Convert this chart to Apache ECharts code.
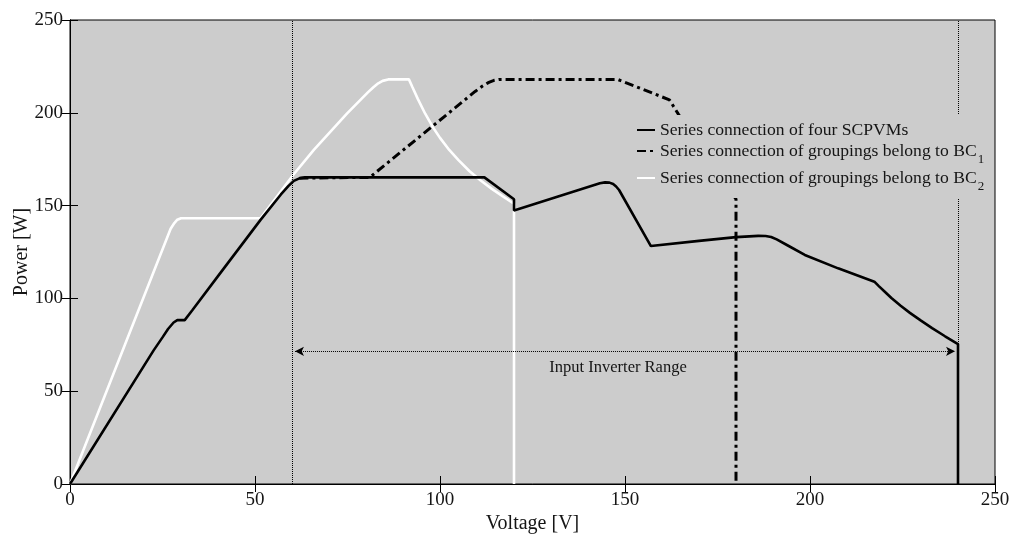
<!DOCTYPE html>
<html>
<head>
<meta charset="utf-8">
<script src="https://cdn.jsdelivr.net/npm/echarts@6/dist/echarts.min.js"></script>
<style>
html,body{margin:0;padding:0;background:#fff;}
#c{width:1013px;height:538px;}
</style>
</head>
<body>
<div id="c"></div>
<script>
// Series connection of four SCPVMs (solid black)
const blackV = [0, 22.6, 25, 26.5, 28, 29, 31, 33, 40, 51.5, 57, 59, 60.5, 62, 63.5, 112, 120, 120, 143.2, 144.6, 145.8, 146.8, 147.6, 148.4, 157, 170, 180, 186, 188, 189.5, 191, 194, 198.6, 207.6, 217.4, 218.6, 220, 222, 224.5, 227, 230, 233, 236.5, 240, 240];
const blackP = [0, 72, 79, 83.5, 87, 88.3, 88.3, 93.5, 112, 142.3, 156, 160.5, 163.3, 164.7, 165.2, 165.2, 153.4, 147.3, 162, 162.5, 162.4, 161.6, 160.3, 158.4, 128.2, 131, 133, 133.7, 133.6, 133.1, 131.8, 128.5, 123.4, 116.2, 109, 106.6, 104, 100.2, 96, 92.2, 88, 84, 79.6, 75.4, 0];
// Series connection of groupings belong to BC1 (dash-dot)
const bc1V = [62, 81, 109.5, 111.5, 113.2, 114.6, 116, 148, 162, 164.5, 168, 172, 176, 180, 180];
const bc1P = [164.8, 165.2, 211.5, 214.4, 216.4, 217.5, 218, 218, 207, 199, 189, 177, 165, 153.5, 0];
// Series connection of groupings belong to BC2 (white)
const bc2V = [0, 27.2, 28.2, 29, 30, 51.5, 60.3, 65.9, 74.9, 80.5, 82, 83.3, 84.5, 86, 91.6, 92.5, 94, 96, 98, 100, 102.5, 105, 108, 111, 114, 117, 120, 120];
const bc2P = [0, 137.5, 140.6, 142.4, 143.2, 143.2, 166.5, 180, 199.7, 211, 213.8, 215.9, 217.2, 218, 218, 214, 207.5, 199.5, 192.5, 186.5, 180, 174.5, 168.5, 163.5, 159, 155, 151, 0];

const seriesNames = ['Series connection of four SCPVMs', 'Series connection of groupings belong to BC1', 'Series connection of groupings belong to BC2'];
const xTicks = [0, 50, 100, 150, 200, 250];
const yTicks = [0, 50, 100, 150, 200, 250];
const rangeMarks = [60, 240];      // input inverter range limits [V]
const rangeArrowLevel = 71.5;      // power level of the range arrow [W]
const rangeLabel = 'Input Inverter Range';

const pairs = (xs, ys) => xs.map((v, i) => [v, ys[i]]);
const FONT = 'Liberation Serif';
const TXT = '#151515';

const chart = echarts.init(document.getElementById('c'), null, {renderer: 'canvas'});
const axisCommon = {
  type: 'value', min: xTicks[0], max: xTicks[xTicks.length - 1], interval: 50,
  axisLine: {show: true, lineStyle: {color: '#000', width: 1}},
  axisTick: {show: true, inside: true, length: 8, lineStyle: {color: '#000', width: 1}},
  splitLine: {show: false}
};
chart.setOption({
  animation: false,
  backgroundColor: '#ffffff',
  grid: {left: 70, right: 18, top: 20, bottom: 54, show: true, backgroundColor: '#cccccc', borderColor: '#000', borderWidth: 1, containLabel: false, outerBoundsMode: 'none'},
  legend: {
    data: seriesNames,
    orient: 'vertical', left: 632, top: 115, z: 10,
    backgroundColor: '#cccccc', padding: [6, 2, 5, 4], itemGap: 3,
    itemWidth: 18, itemHeight: 12, selectedMode: false,
    itemStyle: {opacity: 0, borderWidth: 0},
    formatter: n => {
      const m = n.match(/^(.*BC)(\d)$/);
      return m ? '{m|' + m[1] + '}{sub|' + m[2] + '}' : '{m|' + n + '}';
    },
    textStyle: {fontFamily: FONT, fontSize: 17.6, color: TXT,
      rich: {
        m: {fontFamily: FONT, fontSize: 17.6, lineHeight: 18, color: TXT, verticalAlign: 'top'},
        sub: {fontFamily: FONT, fontSize: 13, lineHeight: 13, color: TXT, padding: [11, 0, 0, 1], verticalAlign: 'top'}
      }}
  },
  xAxis: [
    Object.assign({}, axisCommon, {
      position: 'bottom',
      name: 'Voltage [V]', nameLocation: 'middle', nameGap: 30, nameMoveOverlap: false,
      nameTextStyle: {fontFamily: FONT, fontSize: 20, color: TXT},
      axisLabel: {fontFamily: FONT, fontSize: 19, color: TXT, margin: 7}
    }),
    Object.assign({}, axisCommon, {position: 'top', axisLabel: {show: false}})
  ],
  yAxis: [
    Object.assign({}, axisCommon, {
      min: yTicks[0], max: yTicks[yTicks.length - 1],
      position: 'left',
      name: 'Power [W]', nameLocation: 'middle', nameGap: 38, nameRotate: 90, nameMoveOverlap: false,
      nameTextStyle: {fontFamily: FONT, fontSize: 20, color: TXT},
      axisLabel: {fontFamily: FONT, fontSize: 19, color: TXT, margin: 7}
    }),
    Object.assign({}, axisCommon, {min: yTicks[0], max: yTicks[yTicks.length - 1], position: 'right', axisLabel: {show: false}})
  ],
  series: [
    {
      name: seriesNames[2], type: 'line', z: 2, showSymbol: false, symbol: 'none', silent: true,
      data: pairs(bc2V, bc2P), color: '#ffffff',
      lineStyle: {color: '#ffffff', width: 2.6}
    },
    {
      name: seriesNames[0], type: 'line', z: 3, showSymbol: false, symbol: 'none', silent: true,
      data: pairs(blackV, blackP), color: '#000000',
      lineStyle: {color: '#000000', width: 2.6},
      markLine: {
        silent: true, symbol: 'none', animation: false,
        lineStyle: {color: '#000', width: 1, type: [1, 1]},
        label: {show: false},
        data: [
          {xAxis: rangeMarks[0]},
          {xAxis: rangeMarks[1]},
          [
            {coord: [rangeMarks[0] + 0.8, rangeArrowLevel], symbol: 'arrow', symbolSize: [7, 9]},
            {coord: [rangeMarks[1] - 0.8, rangeArrowLevel], symbol: 'arrow', symbolSize: [7, 9],
             label: {show: true, position: 'insideMiddleBottom', formatter: rangeLabel,
               fontFamily: FONT, fontSize: 16.5, color: TXT, distance: 8, padding: [0, 14, 0, 0]}}
          ]
        ]
      }
    },
    {
      name: seriesNames[1], type: 'line', z: 4, showSymbol: false, symbol: 'none', silent: true,
      data: pairs(bc1V, bc1P), color: '#000000',
      lineStyle: {color: '#000000', width: 3, type: [9, 4, 3, 4]}
    }
  ]
});
</script>
</body>
</html>
